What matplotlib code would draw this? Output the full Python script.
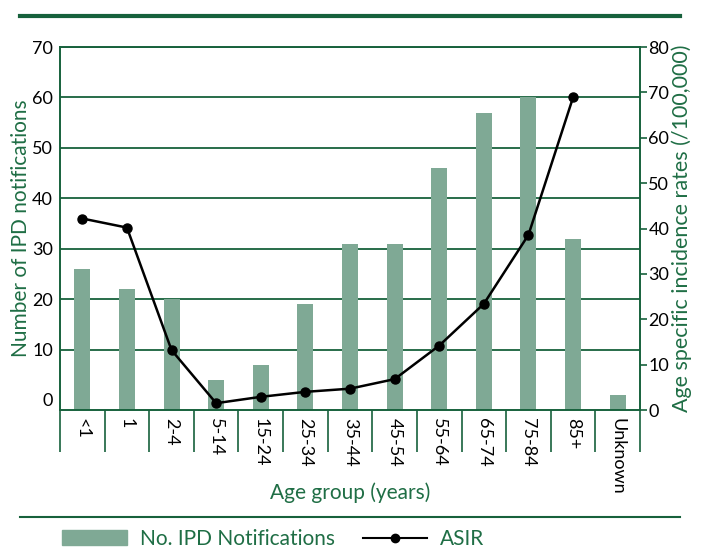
import matplotlib.pyplot as plt
import matplotlib.lines as mlines
import matplotlib.patches as mpatches
import numpy as np

plt.rcParams['font.family'] = ['Lato', 'DejaVu Sans']

age_groups = ['<1', '1', '2-4', '5-14', '15-24', '25-34', '35-44', '45-54',
              '55-64', '65-74', '75-84', '85+', 'Unknown']
ipd_counts = [26, 22, 20, 4, 7, 19, 31, 31, 46, 57, 60, 32, 1]
asir_groups = age_groups[:-1]
asir_values = [42.2, 40.2, 13.2, 1.5, 2.9, 4.0, 4.7, 6.8, 14.2, 23.4, 38.6, 68.9]

GREEN = '#17613c'
BAR = '#7fa995'
LABEL = '#1f6e45'
YMIN = -2

fig = plt.figure(figsize=(7.04, 5.48), dpi=100)
ax = fig.add_axes([60/704, 1 - 410/548, 580/704, 363/548])

x = np.arange(len(age_groups))
ax.bar(x, np.array(ipd_counts) - YMIN, bottom=YMIN, width=0.36, color=BAR, zorder=2)
ax.set_xlim(-0.5, len(age_groups) - 0.5)
ax.set_ylim(YMIN, 70)
ax.set_yticks(range(0, 71, 10))
ax.grid(axis='y', color=GREEN, lw=1.3, zorder=1)
ax.get_ygridlines()[0].set_visible(False)
ax.tick_params(axis='y', length=0, labelsize=13, pad=5)

ax.set_xticks(x)
ax.set_xticklabels(age_groups, rotation=-90, fontsize=13)
ax.set_xticks(np.arange(-0.5, len(age_groups)), minor=True)
ax.tick_params(axis='x', which='major', length=0, pad=6)
ax.tick_params(axis='x', which='minor', length=30, width=1.2, color=GREEN, direction='out')

for s in ['left', 'right', 'bottom', 'top']:
    ax.spines[s].set_color(GREEN)
    ax.spines[s].set_linewidth(1.2)

ax.set_ylabel('Number of IPD notifications', color=LABEL, fontsize=15, va='center')
ax.yaxis.set_label_coords(-39/580, 0.5)
ax.set_xlabel('Age group (years)', color=LABEL, fontsize=15, va='center')
ax.xaxis.set_label_coords(0.5, -83/363)

ax2 = ax.twinx()
ax2.plot(np.arange(len(asir_groups)), asir_values, color='black', lw=1.8,
         marker='o', ms=6.5, zorder=3)
ax2.set_ylim(0, 80)
ax2.set_yticks(range(0, 81, 10))
ax2.tick_params(axis='y', length=5, width=1.2, color=GREEN, labelsize=13, pad=1)
for s in ['left', 'right', 'bottom', 'top']:
    ax2.spines[s].set_color(GREEN)
    ax2.spines[s].set_linewidth(1.2)
ax2.set_ylabel('Age specific incidence rates (/100,000)', color=LABEL, fontsize=15.5,
               rotation=90, va='center')
ax2.yaxis.set_label_coords(1 + 42/580, 0.5)

# decorative rules
fig.add_artist(mlines.Line2D([20/704, 680/704], [1 - 16/548] * 2, color=GREEN, lw=3))
fig.add_artist(mlines.Line2D([20/704, 680/704], [1 - 517/548] * 2, color=GREEN, lw=1.5))

bar_handle = mpatches.Patch(color=BAR)
line_handle = mlines.Line2D([], [], color='black', lw=1.5, marker='o', ms=6)
leg = fig.legend([bar_handle, line_handle], ['No. IPD Notifications', 'ASIR'],
                 loc='center left', bbox_to_anchor=(62/704, 1 - 539/548), ncol=2,
                 frameon=False, fontsize=15, handlelength=3.1, handleheight=0.72,
                 handletextpad=0.62, columnspacing=1.35, borderpad=0, borderaxespad=0)
for t in leg.get_texts():
    t.set_color(LABEL)

fig.savefig('out.png', dpi=100)
